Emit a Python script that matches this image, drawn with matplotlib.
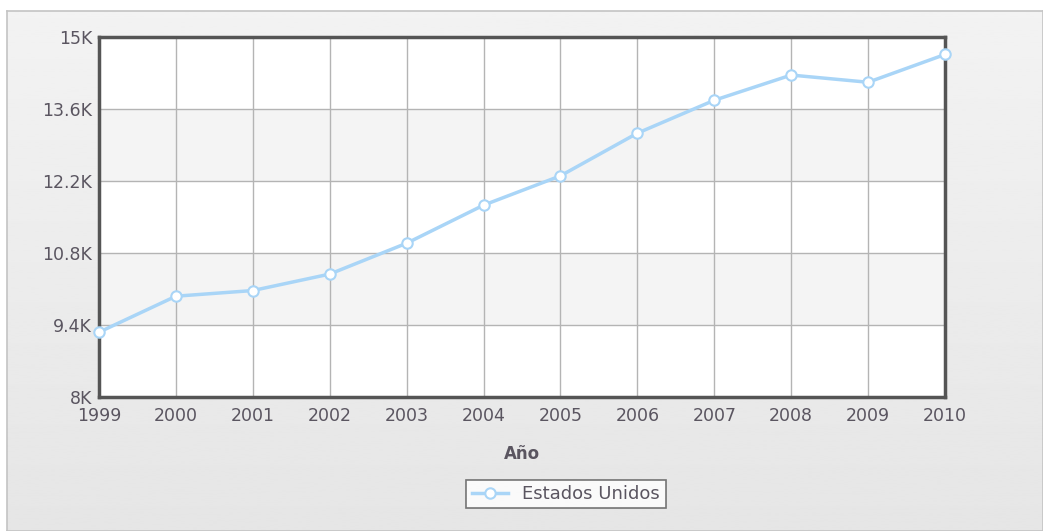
import numpy as np
import matplotlib.pyplot as plt
from matplotlib.patches import Rectangle
from matplotlib.ticker import FuncFormatter

# ---- Datos ----
anios = [1999, 2000, 2001, 2002, 2003, 2004, 2005, 2006, 2007, 2008, 2009, 2010]
valores = [9.26, 9.96, 10.07, 10.39, 10.99, 11.73, 12.30, 13.13, 13.77, 14.26, 14.12, 14.66]  # miles
y_ticks = [8, 9.4, 10.8, 12.2, 13.6, 15]
serie = "Estados Unidos"

texto = "#5a5560"
linea = "#a9d5f7"

fig = plt.figure(figsize=(10.43, 5.31), dpi=100, facecolor="white")

# ---- Fondo con degradado y marco exterior ----
bg = fig.add_axes([7 / 1043, 0, 1 - 7 / 1043, 1 - 11 / 531], zorder=-10)
grad = np.linspace(0.95, 0.90, 256).reshape(-1, 1)
bg.imshow(grad, aspect="auto", cmap="gray", vmin=0, vmax=1, extent=[0, 1, 0, 1])
bg.set_xticks([])
bg.set_yticks([])
for s in bg.spines.values():
    s.set_color("#c4c4c4")
    s.set_linewidth(1.2)

# ---- Área del gráfico ----
ax = fig.add_axes([99 / 1043, 1 - 397 / 531, (945 - 99) / 1043, (397 - 37) / 531])
ax.set_xlim(anios[0], anios[-1])
ax.set_ylim(y_ticks[0], y_ticks[-1])

# bandas alternas
for i in range(len(y_ticks) - 1):
    color = "white" if i % 2 == 0 else "#f4f4f4"
    ax.add_patch(Rectangle((anios[0], y_ticks[i]), anios[-1] - anios[0],
                           y_ticks[i + 1] - y_ticks[i], facecolor=color,
                           edgecolor="none", zorder=0))

ax.set_xticks(anios)
ax.set_yticks(y_ticks)
ax.yaxis.set_major_formatter(FuncFormatter(lambda v, p: f"{v:g}K"))
ax.grid(True, color="#b4b4b4", linewidth=1.0, zorder=1)
ax.set_axisbelow(True)

ax.plot(anios, valores, color=linea, linewidth=2.5, marker="o", markersize=7.5,
        markerfacecolor="white", markeredgecolor=linea, markeredgewidth=1.5,
        label=serie, zorder=5, clip_on=False)

for s in ax.spines.values():
    s.set_color("#555555")
    s.set_linewidth(2.5)
    s.set_zorder(4)

ax.tick_params(length=0, labelsize=12.5, labelcolor=texto)
ax.tick_params(axis="y", pad=5)
ax.tick_params(axis="x", pad=7.5)

ax.set_xlabel("Año", fontsize=12, fontweight="bold", color=texto, labelpad=14)

leg = fig.legend(loc="center", bbox_to_anchor=(566 / 1043, 1 - 494 / 531),
                 frameon=True, fancybox=False, fontsize=13, handlelength=2.0,
                 borderpad=0.3, labelcolor=texto)
leg.get_frame().set_edgecolor("#555555")
leg.get_frame().set_linewidth(1.2)

fig.savefig("out.png", dpi=100, facecolor=fig.get_facecolor())
